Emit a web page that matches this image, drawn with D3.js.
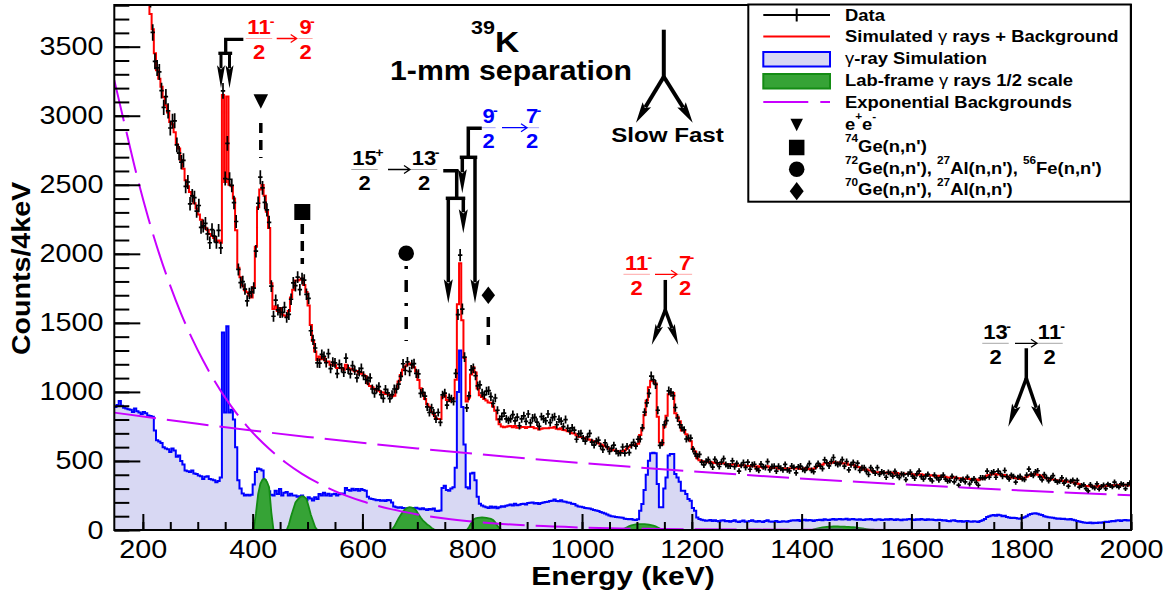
<!DOCTYPE html>
<html>
<head>
<meta charset="utf-8">
<script src="https://cdn.jsdelivr.net/npm/d3@7"></script>
<style>
body { margin: 0; background: #fff; }
svg { display: block; font-family: "Liberation Sans", Arial, Helvetica, sans-serif; }
</style>
</head>
<body>
<svg id="chart" width="1176" height="594"></svg>
<script>
// 4 keV bins, first bin 148-152 keV, last 1996-2000 keV
var binStart = 148;
var binWidth = 4;

// measured spectrum (counts / 4 keV)
var dataCounts = [
4990,4813,4903,4745,4606,4660,4472,4358,4384,4308,
4109,4162,4130,4008,3907,3882,3846,3603,3394,3346,
3317,3182,3060,3138,3035,2911,2960,2963,2789,2729,
2664,2676,2488,2520,2362,2420,2407,2309,2350,2192,
2202,2220,2145,2080,2175,2128,2083,2170,2043,3180,
2545,2800,2540,2495,2371,2234,1887,1791,1799,1745,
1659,1713,1724,1752,2019,2366,2555,2478,2372,2318,
2228,1766,1548,1664,1594,1575,1576,1613,1540,1561,
1671,1790,1769,1831,1740,1821,1809,1707,1677,1443,
1376,1318,1210,1208,1272,1258,1211,1277,1169,1216,
1210,1132,1200,1175,1141,1244,1164,1130,1191,1156,
1101,1145,1171,1117,1090,1081,1102,1021,990,1022,
1038,981,953,1019,993,952,981,1021,1020,1056,
1113,1204,1155,1218,1148,1198,1205,1134,1130,990,
997,970,892,851,885,847,803,851,779,978,
991,904,958,948,932,1134,1560,1990,1600,1252,
885,971,1160,1172,1117,1043,1051,992,978,1006,
1009,966,916,956,867,803,822,847,805,794,
805,836,790,817,755,805,827,787,840,776,
811,815,781,750,821,804,791,840,778,814,
820,762,802,789,749,800,737,717,740,723,
657,696,699,663,643,674,699,636,615,643,
651,607,582,632,602,569,591,614,571,555,
558,601,556,606,561,614,635,607,657,659,
740,853,920,989,1114,1088,1054,867,613,632,
761,792,1008,997,973,887,811,762,740,725,
659,666,666,585,553,533,547,491,471,497,
510,482,456,512,487,460,492,517,475,464,
463,500,458,482,426,468,488,453,491,440,
472,476,443,431,477,457,453,495,435,460,
461,427,461,447,435,475,436,428,463,453,
414,457,463,440,432,453,481,432,422,460,
482,462,445,508,487,464,496,525,484,475,
481,509,462,496,436,473,489,454,484,432,
451,452,425,402,452,428,411,451,403,422,
414,382,417,408,390,425,396,379,406,401,
365,406,419,390,375,406,426,386,369,391,
403,370,355,398,377,362,382,398,368,354,
357,389,349,374,325,360,369,349,383,333,
360,372,345,324,378,378,377,427,383,414,
421,382,427,409,388,431,387,369,397,388,
347,381,389,370,365,398,441,403,394,421,
429,384,363,401,380,356,376,394,360,347,
353,378,339,362,317,352,361,333,360,311,
322,327,300,283,329,310,304,334,296,315,
326,299,332,323,313,347,320,310,335,329,
300,329,341
];

// simulated gamma rays + background (red)
var simTotal = [
4956,4895,4849,4738,4647,4565,4492,4419,4336,4294,
4206,4136,4066,4021,3951,3845,3736,3627,3453,3329,
3267,3210,3133,3076,3024,2955,2938,2881,2794,2762,
2679,2616,2533,2490,2447,2420,2367,2329,2285,2247,
2193,2188,2173,2144,2129,2114,2092,2096,2080,3150,
2520,3140,2500,2490,2400,2170,1900,1830,1770,1737,
1721,1697,1683,1760,2051,2337,2465,2498,2421,2304,
2187,1787,1600,1620,1586,1607,1560,1553,1544,1585,
1684,1740,1807,1806,1812,1821,1775,1724,1625,1485,
1369,1293,1231,1257,1237,1247,1218,1221,1197,1198,
1193,1173,1173,1172,1161,1196,1174,1161,1167,1149,
1151,1132,1138,1124,1113,1061,1043,1034,1023,1012,
1009,997,995,984,987,978,968,973,1023,1075,
1123,1163,1186,1198,1206,1198,1178,1148,1086,1027,
991,949,910,893,855,838,809,803,803,963,
975,941,933,945,951,1088,1635,1932,1519,1245,
931,959,1126,1178,1141,1024,975,964,949,937,
923,921,894,864,801,766,750,744,748,751,
753,744,754,741,741,745,745,738,745,746,
746,736,737,728,734,736,736,737,740,740,
746,734,730,736,725,722,715,711,701,698,
686,676,673,668,661,658,653,646,640,635,
629,619,613,606,597,588,581,578,573,569,
565,572,578,591,603,614,615,617,625,688,
735,833,938,1034,1081,1078,1060,821,633,620,
747,827,983,994,992,846,820,787,721,720,
694,657,643,590,569,519,506,500,494,490,
490,493,485,488,483,478,483,484,477,477,
470,474,478,469,463,468,471,462,463,464,
468,461,456,461,456,451,457,461,452,449,
450,452,444,445,448,445,442,447,448,449,
446,449,442,444,447,440,443,440,443,454,
463,473,473,484,483,482,487,492,486,488,
488,483,482,483,473,473,472,463,456,455,
447,437,438,431,431,422,415,418,419,412,
414,416,411,416,412,407,412,407,402,407,
405,408,409,404,399,404,400,404,399,395,
400,395,396,391,388,393,389,384,385,381,
378,381,382,377,373,375,369,372,373,369,
366,369,366,361,369,372,381,395,399,404,
406,401,406,402,395,398,388,382,378,379,
376,373,370,374,379,386,395,401,404,405,
401,394,389,380,376,371,368,365,362,358,
359,355,356,351,349,352,346,340,336,331,
326,322,319,316,319,313,316,313,318,314,
317,320,318,321,324,322,325,326,322,325,
327,322,323
];

// gamma-ray simulation (blue)
var gammaSim = [
890,905,935,900,885,880,875,870,855,880,
860,850,840,855,845,830,825,820,720,650,
640,630,600,590,585,565,590,575,530,540,
500,475,430,425,420,430,410,405,395,390,
370,385,390,370,365,360,345,355,380,1430,
850,1475,850,870,800,600,360,300,265,250,
255,250,255,330,420,445,440,430,360,300,
280,255,250,285,260,297,250,270,275,250,
262,250,249,240,245,250,225,215,237,228,
213,237,225,261,250,270,250,262,248,258,
262,250,258,265,262,305,290,285,298,288,
297,285,297,290,285,240,228,225,220,215,
218,212,215,210,218,215,200,170,165,162,
165,160,158,155,157,160,158,162,155,150,
158,150,145,152,148,155,140,138,142,305,
320,290,285,300,310,450,1000,1300,890,620,
309,300,410,415,360,240,190,178,170,165,
160,170,162,168,158,165,172,168,175,180,
185,178,190,180,182,188,190,185,195,198,
200,192,195,188,196,200,202,205,210,212,
220,210,208,215,206,205,200,198,190,188,
178,170,168,165,160,158,155,150,145,142,
138,130,125,120,112,105,100,98,95,92,
90,88,82,80,78,80,75,72,78,140,
188,290,400,502,556,560,556,334,164,164,
300,381,539,551,551,406,381,350,285,285,
260,224,212,160,140,91,79,75,70,67,
68,72,65,70,66,62,68,70,64,66,
60,65,70,62,58,64,68,60,62,65,
70,64,60,66,62,58,65,70,62,60,
62,65,58,60,64,62,60,66,68,70,
68,72,66,70,74,68,72,70,66,70,
72,75,70,78,74,72,76,80,75,78,
80,76,78,82,75,78,80,76,74,78,
75,72,78,76,80,74,70,76,78,72,
75,78,74,80,76,72,78,74,70,76,
74,78,80,76,72,78,75,80,76,72,
78,74,76,72,70,75,72,68,70,66,
64,68,70,66,62,65,60,64,66,62,
60,64,62,58,66,70,80,95,100,105,
108,104,110,106,100,104,95,90,86,88,
86,84,82,86,92,100,110,116,120,122,
118,112,108,100,96,92,90,88,85,82,
84,80,82,78,76,80,75,70,66,62,
58,55,52,50,54,48,52,50,55,52,
56,60,58,62,66,64,68,70,66,70,
72,68,70
];

// lab-frame gamma rays (1/2 scale): first bin centre of each peak, then its counts
var labStarts = [398, 462, 650, 790, 1070, 1418];
var labPeaks = [
  [0,10,120,260,335,365,370,350,310,130,0],
  [0,40,100,150,200,220,237,245,240,225,170,110,65,20,0],
  [0,5,25,55,85,110,135,150,160,165,162,155,140,115,90,70,55,40,30,15,5,0],
  [0,20,50,75,85,88,90,92,90,88,85,80,72,55,30,10,0],
  [0,5,12,20,28,33,37,40,42,43,43,42,40,38,35,32,26,18,10,4,0],
  [0,4,8,12,16,19,21,23,24,25,26,26,26,25,25,24,23,22,21,20,18,16,14,12,9,7,5,3,2,1,0]
];

// exponential backgrounds (magenta), read at these energies
var steepE = [148,170,190,210,230,250,270,290,310,330,350,370,390,410,430,460,490,520,550,600,650,700,750,800,900,1000,1200,1400,1700,2000];
var steepC = [3257,2884,2552,2258,1998,1768,1564,1384,1225,1084,959,848,751,664,588,489,407,339,282,208,153,113,83,61,33,18,5,2,0,0];
var slowE = [148,300,500,700,900,1100,1300,1500,1700,1900,2000];
var slowC = [850,769,674,591,518,454,398,349,306,268,252];

var xTickValues = [200,400,600,800,1000,1200,1400,1600,1800,2000];
var yTickValues = [0,500,1000,1500,2000,2500,3000,3500];

var legendLabels = ["Data", "Simulated", "γ-ray Simulation", "Lab-frame", "Exponential Backgrounds"];

var svg = d3.select("#chart");
var x = d3.scaleLinear().domain([148, 2000]).range([114.3, 1131]);
var y = d3.scaleLinear().domain([0, 3800]).range([530, 5.25]);
var SX = 1.15;   // the original text is a little wide

var lavender = "#d8d8f3", blue = "#0000ff", red = "#ff0000";
var greenFill = "#36a336", greenLine = "#148c14", violet = "#c800ff";

svg.append("defs").append("clipPath").attr("id", "plotClip")
  .append("rect").attr("x", 114.3).attr("y", 5).attr("width", 1016.7).attr("height", 526);

var plot = svg.append("g").attr("clip-path", "url(#plotClip)");

function binPts(vals) {
  var p = [];
  vals.forEach(function(v, i) {
    var e0 = binStart + binWidth * i;
    p.push([e0, v]);
    p.push([e0 + binWidth, v]);
  });
  return p;
}
var line = d3.line().x(function(d) { return x(d[0]); }).y(function(d) { return y(d[1]); });
var area = d3.area().x(function(d) { return x(d[0]); }).y0(y(0)).y1(function(d) { return y(d[1]); });

// blue simulation, filled
plot.append("path").datum(binPts(gammaSim)).attr("d", area).attr("fill", lavender);
plot.append("path").datum(binPts(gammaSim)).attr("d", line)
  .attr("fill", "none").attr("stroke", blue).attr("stroke-width", 2);

// lab frame peaks
var labFull = dataCounts.map(function() { return 0; });
labPeaks.forEach(function(pk, k) {
  var i0 = Math.round((labStarts[k] - binStart - binWidth / 2) / binWidth);
  pk.forEach(function(v, j) { labFull[i0 + j] = v; });
});
var labPts = labFull.map(function(v, i) { return [binStart + binWidth * (i + 0.5), v]; });
labPts.unshift([148, 0]); labPts.push([2000, 0]);
plot.append("path").datum(labPts).attr("d", area).attr("fill", greenFill);
plot.append("path").datum(labPts).attr("d", line)
  .attr("fill", "none").attr("stroke", greenLine).attr("stroke-width", 1.8);

// exponential backgrounds
var bgLine = d3.line().curve(d3.curveMonotoneX)
  .x(function(d) { return x(d[0]); }).y(function(d) { return y(d[1]); });
[[steepE, steepC], [slowE, slowC]].forEach(function(s) {
  plot.append("path").datum(s[0].map(function(e, i) { return [e, s[1][i]]; }))
    .attr("d", bgLine).attr("fill", "none").attr("stroke", violet)
    .attr("stroke-width", 2).attr("stroke-dasharray", "42,11");
});

// simulated total
plot.append("path").datum(binPts(simTotal)).attr("d", line)
  .attr("fill", "none").attr("stroke", red).attr("stroke-width", 2);

// data with error bars
var dPath = "";
dataCounts.forEach(function(c, i) {
  var e = binStart + binWidth * (i + 0.5);
  var s = Math.sqrt(c);
  var xc = x(e), yc = y(c);
  dPath += "M" + (xc - 2.2) + "," + yc + "H" + (xc + 2.2) +
           "M" + xc + "," + y(c + s) + "V" + y(c - s);
});
plot.append("path").attr("d", dPath).attr("fill", "none")
  .attr("stroke", "#000").attr("stroke-width", 1.7);

// axes
function styleAxis(g) {
  g.select(".domain").remove();
  g.selectAll(".tick line").attr("stroke", "#000").attr("stroke-width", 2);
  g.attr("font-size", 25).attr("font-family", "Liberation Sans, Arial, sans-serif");
}
var gxm = svg.append("g").attr("transform", "translate(0,530)")
  .call(d3.axisBottom(x).tickValues(d3.range(200, 2001, 50)).tickSize(-8).tickSizeOuter(0).tickFormat(""));
styleAxis(gxm);
var gx = svg.append("g").attr("transform", "translate(0,530)")
  .call(d3.axisBottom(x).tickValues(xTickValues).tickSize(-16).tickSizeOuter(0).tickPadding(10.5).tickFormat(d3.format("d")));
styleAxis(gx);
gx.selectAll("text").attr("fill", "#000").attr("transform", "scale(" + SX + ",1)");

var gym = svg.append("g").attr("transform", "translate(114.3,0)")
  .call(d3.axisLeft(y).tickValues(d3.range(0, 3801, 100)).tickSize(-15).tickSizeOuter(0).tickFormat(""));
styleAxis(gym);
var gy = svg.append("g").attr("transform", "translate(114.3,0)")
  .call(d3.axisLeft(y).tickValues(yTickValues).tickSize(-26).tickSizeOuter(0).tickPadding(9.5).tickFormat(d3.format("d")));
styleAxis(gy);
gy.selectAll("text").attr("fill", "#000").attr("transform", "scale(" + SX + ",1)");

svg.append("rect").attr("x", 114.3).attr("y", 5).attr("width", 1016.7).attr("height", 525)
  .attr("fill", "none").attr("stroke", "#000").attr("stroke-width", 2);

// text helpers
function label(g, px, py, str, o) {
  o = o || {};
  return g.append("text")
    .attr("transform", "translate(" + px + "," + py + ") scale(" + (o.sx || SX) + ",1)")
    .attr("text-anchor", o.anchor || "start")
    .attr("font-size", o.size || 20)
    .attr("font-weight", o.weight || "bold")
    .attr("fill", o.color || "#000")
    .text(str);
}
function rich(g, px, py, parts, size, sx, color) {
  var t = g.append("text")
    .attr("transform", "translate(" + px + "," + py + ") scale(" + sx + ",1)")
    .attr("font-size", size).attr("font-weight", "bold").attr("fill", color || "#000");
  var cur = 0;
  parts.forEach(function(p) {
    var target = p[1] === "sup" ? -0.6 * size : 0;
    var ts = t.append("tspan").attr("dy", target - cur).text(p[0]);
    cur = target;
    if (p[1] === "sup") ts.attr("font-size", 0.64 * size);
    if (p[1] === "g") ts.attr("font-weight", "normal");
  });
  return t;
}

// axis titles
label(svg, 623, 585, "Energy (keV)", {anchor: "middle", size: 25, sx: 1.2});
svg.append("text")
  .attr("transform", "translate(30,268.5) rotate(-90) scale(1.1,1)")
  .attr("text-anchor", "middle").attr("font-size", 26).attr("font-weight", "bold")
  .text("Counts/4keV");

// title
rich(svg, 471, 52, [["39", "sup"], ["K", ""]], 30, 1.12);
label(svg, 390, 80, "1-mm separation", {size: 27, sx: 1.12});

// annotations
var ann = svg.append("g");
function poly(pts, sw) {
  ann.append("path").attr("d", "M" + pts.map(function(p) { return p.join(","); }).join("L"))
    .attr("fill", "none").attr("stroke", "#000").attr("stroke-width", sw)
    .attr("stroke-linecap", "square");
}
function arrow(x1, y1, x2, y2, hl, hw, sw) {
  var dx = x2 - x1, dy = y2 - y1, L = Math.sqrt(dx * dx + dy * dy);
  var ux = dx / L, uy = dy / L;
  var bx = x2 - ux * hl, by = y2 - uy * hl;
  ann.append("line").attr("x1", x1).attr("y1", y1).attr("x2", bx + ux * 3).attr("y2", by + uy * 3)
    .attr("stroke", "#000").attr("stroke-width", sw);
  ann.append("path").attr("d",
      "M" + x2 + "," + y2 +
      "L" + (bx - uy * hw / 2) + "," + (by + ux * hw / 2) +
      "L" + (bx + ux * hl * 0.18) + "," + (by + uy * hl * 0.18) +
      "L" + (bx + uy * hw / 2) + "," + (by - ux * hw / 2) + "Z")
    .attr("fill", "#000");
}
function frac(cx, ly, num, sup, color) {
  var w = num.length * 0.556 * 20 * 1.1;
  label(ann, cx, ly - 4.5, num, {anchor: "middle", size: 20, sx: 1.1, color: color});
  label(ann, cx + w / 2 - 1.5, ly - 12.5, sup, {size: 13, sx: 1.1, color: color});
  ann.append("line").attr("x1", cx - w / 2 - 1).attr("x2", cx + w / 2 + 1)
    .attr("y1", ly).attr("y2", ly).attr("stroke", color).attr("stroke-opacity", 0.35).attr("stroke-width", 1);
  label(ann, cx, ly + 20.5, "2", {anchor: "middle", size: 20, sx: 1.1, color: color});
}
function thinArrow(x1, x2, ly, color) {
  ann.append("path").attr("d", "M" + x1 + "," + ly + "H" + x2 + "M" + (x2 - 6) + "," + (ly - 4) + "L" + x2 + "," + ly + "L" + (x2 - 6) + "," + (ly + 4))
    .attr("fill", "none").attr("stroke", color).attr("stroke-width", 1.3);
}

// 11/2- -> 9/2-
frac(259, 38.5, "11", "-", red); thinArrow(276.7, 296.7, 38.5, red); frac(305.5, 38.5, "9", "-", red);
poly([[241.7, 39.3], [225.7, 39.3], [225.7, 53.3]], 3.3);
poly([[220, 53.3], [230.5, 53.3]], 3.3);
arrow(221, 53.3, 221, 88.3, 23, 8, 3);
arrow(229.5, 53.3, 229.5, 88.3, 23, 8, 3);

// 15/2+ -> 13/2-
frac(364.5, 169.5, "15", "+", "#000"); thinArrow(388, 410, 169.5, "#000"); frac(424, 169.5, "13", "-", "#000");
poly([[445, 170.7], [456.7, 170.7], [456.7, 198.3]], 3.5);
poly([[447.5, 198.3], [463.5, 198.3]], 3.5);
arrow(448.3, 198.3, 448.3, 303.3, 24, 9, 3.5);
arrow(463.3, 198.3, 463.3, 233.3, 24, 9, 3.5);

// 9/2- -> 7/2-
frac(488.5, 127.7, "9", "-", blue); thinArrow(502, 527, 127.7, blue); frac(532, 127.7, "7", "-", blue);
poly([[480, 128.3], [468.3, 128.3], [468.3, 157.3]], 3.5);
poly([[461.5, 157.3], [475.5, 157.3]], 3.5);
arrow(462.3, 157.3, 462.3, 193.3, 24, 9, 3.5);
arrow(475, 157.3, 475, 303.3, 24, 9, 3.5);

// slow / fast
poly([[663.8, 31.7], [663.8, 76.7]], 4);
arrow(663.8, 76.7, 636, 122.7, 21, 10, 4);
arrow(663.8, 76.7, 692.7, 122.7, 21, 10, 4);
label(svg, 667.5, 141.7, "Slow Fast", {anchor: "middle", size: 21});

// 11/2- -> 7/2-
frac(636.7, 274.3, "11", "-", red); thinArrow(655, 677, 274.3, red); frac(685, 274.3, "7", "-", red);
poly([[665.3, 281.7], [665.3, 310]], 3.5);
arrow(665.3, 310, 651.7, 345, 21, 8, 3.5);
arrow(665.3, 310, 678.3, 345, 21, 8, 3.5);

// 13/2- -> 11/2-
frac(995.5, 343.3, "13", "-", "#000"); thinArrow(1015, 1037, 343.3, "#000"); frac(1049.5, 343.3, "11", "-", "#000");
poly([[1026.3, 350], [1026.3, 378.3]], 3.5);
arrow(1026.3, 378.3, 1008.3, 426.7, 23, 9, 3.5);
arrow(1026.3, 378.3, 1042.7, 426.7, 23, 9, 3.5);

// background-line markers
function dashed(px, y1, y2, dash) {
  ann.append("line").attr("x1", px).attr("x2", px).attr("y1", y1).attr("y2", y2)
    .attr("stroke", "#000").attr("stroke-width", 3.5).attr("stroke-dasharray", dash);
}
function marker(g, kind, cx, cy, s) {
  if (kind === "tri") g.append("path").attr("d", "M" + (cx - s / 2) + "," + (cy - s / 2) + "L" + (cx + s / 2) + "," + (cy - s / 2) + "L" + cx + "," + (cy + s / 2) + "Z");
  if (kind === "sq") g.append("rect").attr("x", cx - s / 2).attr("y", cy - s / 2).attr("width", s).attr("height", s);
  if (kind === "circ") g.append("circle").attr("cx", cx).attr("cy", cy).attr("r", s / 2);
  if (kind === "dia") g.append("path").attr("d", "M" + cx + "," + (cy - s * 0.65) + "L" + (cx + s / 2) + "," + cy + "L" + cx + "," + (cy + s * 0.65) + "L" + (cx - s / 2) + "," + cy + "Z");
}
marker(ann, "tri", 260.8, 101.5, 14.5); dashed(260.8, 123, 158, "10,7");
marker(ann, "sq", 302.3, 212, 16); dashed(302.3, 224, 264, "10,7");
marker(ann, "circ", 406.2, 253.3, 15.5); dashed(406.2, 266, 341, "3,11,12,11");
marker(ann, "dia", 488.3, 295.3, 13.5); dashed(488.3, 317, 352, "10,8");

// legend
var leg = svg.append("g");
leg.append("rect").attr("x", 748.3).attr("y", 4.5).attr("width", 382.5).attr("height", 197.2)
  .attr("fill", "#fff").attr("stroke", "#000").attr("stroke-width", 2);
var lx0 = 763.3, lx1 = 830, lcx = 796.7, tx = 845;
var rowBase = [20.7, 42.3, 64, 86, 108.3, 130, 151.7, 174, 195.3];
leg.append("path").attr("d", "M" + lx0 + ",15H" + lx1 + "M" + lcx + ",8.5V21.5")
  .attr("stroke", "#000").attr("stroke-width", 2);
leg.append("line").attr("x1", lx0).attr("x2", lx1).attr("y1", 36.5).attr("y2", 36.5)
  .attr("stroke", red).attr("stroke-width", 2);
leg.append("rect").attr("x", lx0).attr("y", 52).attr("width", lx1 - lx0).attr("height", 14.5)
  .attr("fill", lavender).attr("stroke", blue).attr("stroke-width", 2);
leg.append("rect").attr("x", lx0).attr("y", 74).attr("width", lx1 - lx0).attr("height", 14.5)
  .attr("fill", greenFill).attr("stroke", greenLine).attr("stroke-width", 2);
leg.append("line").attr("x1", lx0).attr("x2", lx1).attr("y1", 102).attr("y2", 102)
  .attr("stroke", violet).attr("stroke-width", 2).attr("stroke-dasharray", "45,12");
var lm = leg.append("g").attr("fill", "#000");
marker(lm, "tri", lcx, 125, 12.5);
marker(lm, "sq", lcx, 147.5, 15.5);
marker(lm, "circ", lcx, 169.2, 15.5);
marker(lm, "dia", lcx, 191.2, 14);

rich(leg, tx, rowBase[0], [[legendLabels[0], ""]], 16, SX);
rich(leg, tx, rowBase[1], [[legendLabels[1] + " ", ""], ["γ", "g"], [" rays + Background", ""]], 16, SX);
rich(leg, tx, rowBase[2], [["γ", "g"], ["-ray Simulation", ""]], 16, SX);
rich(leg, tx, rowBase[3], [[legendLabels[3] + " ", ""], ["γ", "g"], [" rays 1/2 scale", ""]], 16, SX);
rich(leg, tx, rowBase[4], [[legendLabels[4], ""]], 16, SX);
rich(leg, tx, rowBase[5], [["e", ""], ["+", "sup"], ["e", ""], ["-", "sup"]], 16, SX);
rich(leg, tx, rowBase[6], [["74", "sup"], ["Ge(n,n')", ""]], 16, SX);
rich(leg, tx, rowBase[7], [["72", "sup"], ["Ge(n,n'),  ", ""], ["27", "sup"], ["Al(n,n'),  ", ""], ["56", "sup"], ["Fe(n,n')", ""]], 16, SX);
rich(leg, tx, rowBase[8], [["70", "sup"], ["Ge(n,n'),  ", ""], ["27", "sup"], ["Al(n,n')", ""]], 16, SX);
</script>
</body>
</html>
